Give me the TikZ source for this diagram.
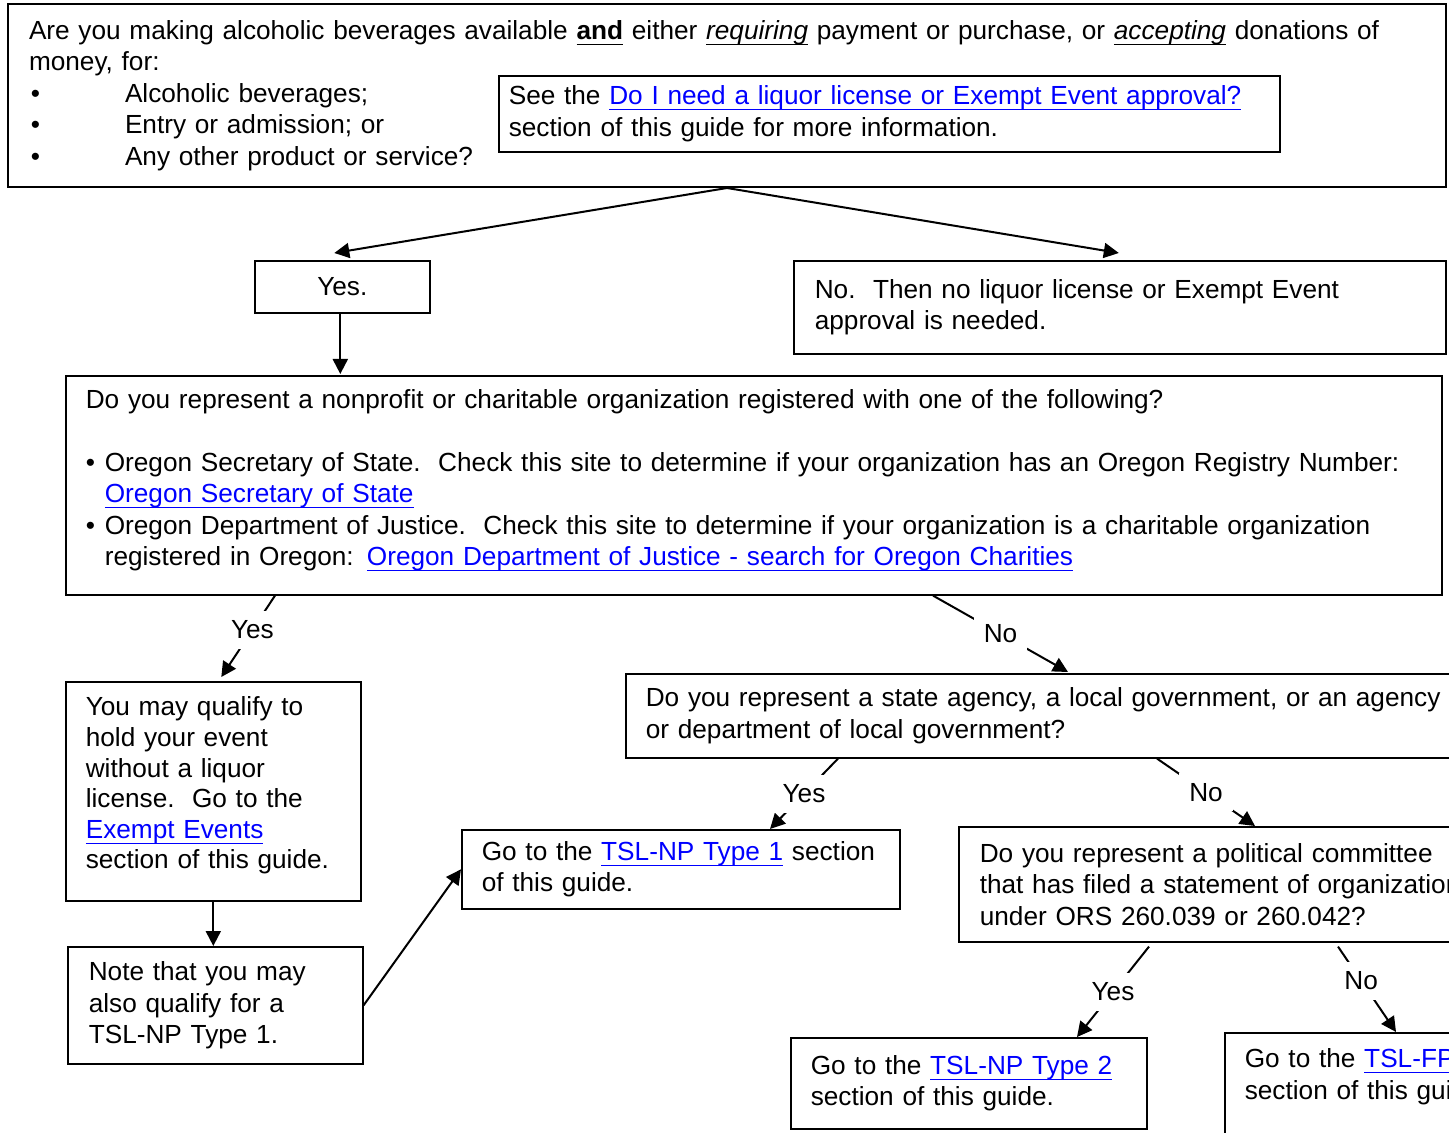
\documentclass[tikz,border=0pt]{standalone}
\usepackage{fontspec}
\setmainfont{Liberation Sans}
\usetikzlibrary{arrows.meta, calc}

\newcommand{\subrayar}[1]{\leavevmode\setbox0=\hbox{#1}\rlap{\rule[-2.7pt]{\wd0}{0.55pt}}\box0\relax}
\newcommand{\enlace}[1]{\textcolor{blue}{\subrayar{#1}}}
\newcommand{\vineta}{\makebox[9.5pt][l]{\textbullet}}
\newcommand{\vinetaancha}{\makebox[48pt][l]{\hspace{1pt}\textbullet}}

\begin{document}
\begin{tikzpicture}[
        x=0.5pt, y=-0.5pt,
        caja/.style={
            rectangle,
            draw=black,
            line width=0.8pt,
            align=left,
            anchor=north west,
            inner xsep=10pt,
            inner ysep=0pt,
            font=\fontsize{13.1pt}{15.7pt}\selectfont
        },
        etiqueta/.style={
            fill=white,
            inner sep=5pt,
            font=\fontsize{13.1pt}{15.7pt}\selectfont
        },
        flecha/.style={-{Triangle[length=7.5pt, width=7.5pt]}, line width=1pt, draw=black}
    ]
        \clip (0,0) rectangle (1449,1133);
        \fill[white] (0,0) rectangle (1449,1133);

        \node[caja, line width=1pt, inner xsep=10.5pt, text width=698pt, minimum height=91.5pt] (pregunta) at (7,3) {
            Are you making alcoholic beverages available \subrayar{\textbf{and}} either \subrayar{\textit{requiring}} payment or purchase, or \subrayar{\textit{accepting}} donations of\\
            money, for:\\
            \vinetaancha Alcoholic beverages;\\
            \vinetaancha Entry or admission; or\\
            \vinetaancha Any other product or service?
        };

        \node[caja, inner xsep=5pt, text width=380.5pt, minimum height=38pt] (guia) at (498,75) {
            See the \enlace{Do I need a liquor license or Exempt Event approval?}\\
            section of this guide for more information.
        };

        \node[caja, align=center, text width=67.5pt, minimum height=26pt] (si) at (254,260) {
            Yes.
        };

        \node[caja, inner xsep=10.5pt, text width=305pt, minimum height=46.5pt] (no) at (793,260) {
            No.\ \ Then no liquor license or Exempt Event\\
            approval is needed.
        };

        \node[caja, text width=668pt, minimum height=109.5pt] (registro) at (65,375) {
            Do you represent a nonprofit or charitable organization registered with one of the following?\\[15.7pt]
            \vineta Oregon Secretary of State.\ \ Check this site to determine if your organization has an Oregon Registry Number:\\
            \hspace*{9.5pt}\enlace{Oregon Secretary of State}\\
            \vineta Oregon Department of Justice.\ \ Check this site to determine if your organization is a charitable organization\\
            \hspace*{9.5pt}registered in Oregon: \enlace{Oregon Department of Justice - search for Oregon Charities}\\[-8pt]\mbox{}
        };

        \node[caja, text width=127.5pt, minimum height=109.5pt, font=\fontsize{13.1pt}{15.3pt}\selectfont] (exento) at (65,681) {
            You may qualify to\\
            hold your event\\
            without a liquor\\
            license.\ \ Go to the\\
            \enlace{Exempt Events}\\
            section of this guide.\\[-6.9pt]\mbox{}
        };

        \node[caja, inner xsep=10.5pt, text width=126.5pt, minimum height=58.5pt] (nota) at (67,946) {
            Note that you may\\
            also qualify for a\\
            TSL-NP Type 1.
        };

        \node[caja, text width=199pt, minimum height=39.5pt] (tipo1) at (461,829) {
            Go to the \enlace{TSL-NP Type 1} section\\
            of this guide.
        };

        \node[caja, text width=420pt, minimum height=42pt] (estado) at (625,673) {
            Do you represent a state agency, a local government, or an agency\\
            or department of local government?
        };

        \node[caja, inner xsep=10.5pt, text width=259pt, minimum height=57.5pt] (politico) at (958,826) {
            Do you represent a political committee\\
            that has filed a statement of organization\\
            under ORS 260.039 or 260.042?
        };

        \node[caja, text width=158pt, minimum height=45.5pt] (tipo2) at (790,1037) {
            Go to the \enlace{TSL-NP Type 2}\\
            section of this guide.
        };

        \node[caja, text width=130pt, minimum height=55pt] (fp) at (1224,1032) {
            Go to the \enlace{TSL-FP}\\
            section of this guide.\\[-2pt]\mbox{}
        };

        % primera pregunta
        \draw[flecha] (pregunta.south) -- ($(si.north)+(-8,-7)$);
        \draw[flecha] (pregunta.south) -- ($(no.north)+(-1,-7)$);
        \draw[flecha] ($(si.south)+(-2,0)$) -- ($(si.south |- registro.north)+(-2,-1)$);

        % ramas con etiqueta
        \draw[flecha] ($(registro.south west)+(210,0)$) -- node[etiqueta, pos=0.42] {Yes} ($(exento.north)+(8,-4)$);
        \draw[flecha] ($(registro.south west)+(868,0)$) -- node[etiqueta] {No} ($(estado.north west)+(443,-1)$);
        \draw[flecha] ($(estado.south west)+(213,0)$) -- node[etiqueta] {Yes} ($(tipo1.north west)+(309,0)$);
        \draw[flecha] ($(estado.south west)+(532,0)$) -- node[etiqueta] {No} ($(politico.north west)+(297,0)$);
        \draw[flecha] ($(politico.south west)+(191,4)$) -- node[etiqueta] {Yes} ($(tipo2.north west)+(287,0)$);
        \draw[flecha] ($(politico.south west)+(380,4)$) -- node[etiqueta, pos=0.4] {No} ($(fp.north west)+(172,0)$);

        \draw[flecha] (exento.south) -- (exento.south |- nota.north);
        \draw[flecha] (nota.east) -- (tipo1.west);
    \end{tikzpicture}
\end{document}
